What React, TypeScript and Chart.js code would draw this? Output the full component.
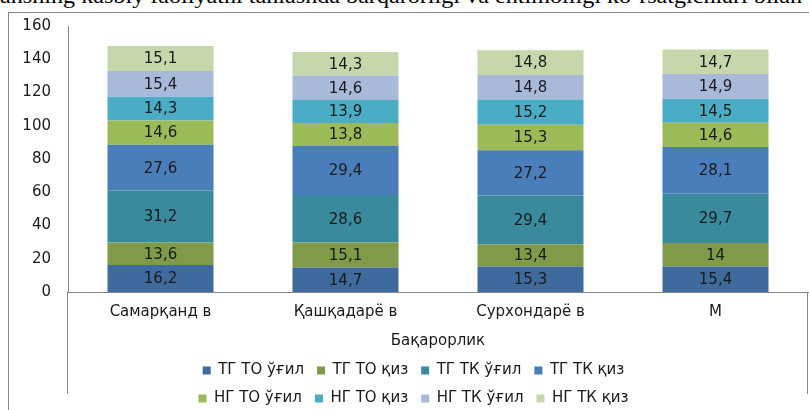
import React, { useEffect, useRef } from 'react';
import { Chart, registerables } from 'chart.js';

Chart.register(...registerables);

// ---- data ----
const categories = ['Самарқанд в', 'Қашқадарё в', 'Сурхондарё в', 'М'];
const axisTitle = 'Бақарорлик';
const headerText = 'ansning kasbiy faoliyatni tanlashda barqarorligi va ehtimolligi ko‘rsatgichlari bilan';

const seriesNames = [
  'ТГ ТО ўғил', 'ТГ ТО қиз', 'ТГ ТК ўғил', 'ТГ ТК қиз',
  'НГ ТО ўғил', 'НГ ТО қиз', 'НГ ТК ўғил', 'НГ ТК қиз',
];
const tgToOgil = [16.2, 14.7, 15.3, 15.4];
const tgToQiz = [13.6, 15.1, 13.4, 14];
const tgTkOgil = [31.2, 28.6, 29.4, 29.7];
const tgTkQiz = [27.6, 29.4, 27.2, 28.1];
const ngToOgil = [14.6, 13.8, 15.3, 14.6];
const ngToQiz = [14.3, 13.9, 15.2, 14.5];
const ngTkOgil = [15.4, 14.6, 14.8, 14.9];
const ngTkQiz = [15.1, 14.3, 14.8, 14.7];
const seriesValues = [tgToOgil, tgToQiz, tgTkOgil, tgTkQiz, ngToOgil, ngToQiz, ngTkOgil, ngTkQiz];

const yMin = 0;
const yMax = 160;
const yStep = 20;

// ---- styles ----
const seriesColors = [
  '#3F6A9E', '#7F9A48', '#3A8A9E', '#4A7EBB',
  '#9BBB59', '#4BACC6', '#A9B9DA', '#C5D7AB',
];
const FONT = '"DejaVu Sans", "Noto Sans", sans-serif';
const TEXT = '#1a1a1a';
const AXIS = '#868686';

const segmentLabels = {
  id: 'segmentLabels',
  afterDatasetsDraw(chart: any) {
    const ctx = chart.ctx;
    ctx.save();
    ctx.font = `15px ${FONT}`;
    ctx.fillStyle = TEXT;
    ctx.textAlign = 'center';
    ctx.textBaseline = 'middle';
    chart.data.datasets.forEach((ds: any, i: number) => {
      const meta = chart.getDatasetMeta(i);
      meta.data.forEach((el: any, j: number) => {
        const v = ds.data[j];
        const { x, y, base } = el.getProps(['x', 'y', 'base'], true);
        ctx.fillText(String(v).replace('.', ','), x, (y + base) / 2 + 1);
      });
    });
    ctx.restore();
  },
};

const groupSeparators = {
  id: 'groupSeparators',
  afterDraw(chart: any) {
    const { ctx, chartArea } = chart;
    ctx.save();
    ctx.strokeStyle = AXIS;
    ctx.lineWidth = 1;
    ctx.beginPath();
    [chartArea.left, chartArea.right].forEach((x: number) => {
      const px = Math.round(x) - 0.5;
      ctx.moveTo(px, chartArea.bottom);
      ctx.lineTo(px, chartArea.bottom + 102);
    });
    ctx.stroke();
    ctx.restore();
  },
};

export default function App() {
  const canvasRef = useRef<HTMLCanvasElement | null>(null);

  useEffect(() => {
    if (!canvasRef.current) return;
    const font = { family: FONT, size: 15 };
    const chart = new Chart(canvasRef.current, {
      type: 'bar',
      data: {
        labels: categories,
        datasets: seriesNames.map((name, i) => ({
          label: name,
          data: seriesValues[i],
          backgroundColor: seriesColors[i],
          borderWidth: 0,
          barPercentage: 0.573,
          categoryPercentage: 1,
        })),
      },
      options: {
        responsive: false,
        animation: false,
        layout: { padding: { top: 23, left: 0, right: 1, bottom: 0 } },
        plugins: {
          tooltip: { enabled: false },
          legend: {
            position: 'bottom',
            labels: {
              boxWidth: 8,
              boxHeight: 8,
              padding: 13,
              font,
              color: TEXT,
            },
          },
        },
        scales: {
          x: {
            stacked: true,
            grid: { display: false, drawTicks: false },
            border: { display: true, color: AXIS },
            ticks: { font, color: TEXT, padding: 11 },
            title: {
              display: true,
              text: axisTitle,
              font,
              color: TEXT,
              padding: { top: 0, bottom: 0 },
            },
            afterFit: (s: any) => {
              s.height = 58;
            },
          },
          y: {
            stacked: true,
            min: yMin,
            max: yMax,
            ticks: { stepSize: yStep, font, color: TEXT, padding: 17 },
            grid: { display: false, drawTicks: false },
            border: { display: true, color: AXIS },
            afterFit: (s: any) => {
              s.width = 68;
            },
          },
        },
      } as any,
      plugins: [segmentLabels, groupSeparators],
    });

    // legend: 4 items per row, rows centred like the reference
    const lg: any = (chart as any).legend;
    if (lg) {
      const origUpdate = lg.update.bind(lg);
      lg.update = (w: number, h: number, m: any) => origUpdate(Math.min(w, 490), h, m);
      const origDraw = lg.draw.bind(lg);
      lg.draw = () => {
        const l = lg.left;
        const r = lg.right;
        const center = 413.5;
        const half = 258;
        lg.left = center - half;
        lg.right = center + half;
        origDraw();
        lg.left = l;
        lg.right = r;
      };
      chart.update();
    }

    return () => chart.destroy();
  }, []);

  return (
    <div
      style={{
        position: 'absolute',
        left: 0,
        top: 0,
        width: 809,
        height: 410,
        overflow: 'hidden',
        background: '#fff',
      }}
    >
      <div
        style={{
          position: 'absolute',
          left: 0,
          top: -16,
          whiteSpace: 'nowrap',
          fontFamily: '"Liberation Serif", serif',
          fontSize: 21,
          lineHeight: '24px',
          color: '#000',
          transform: 'scaleX(1.15)',
          transformOrigin: '0 0',
        }}
      >
        {headerText}
      </div>
      <div
        style={{
          position: 'absolute',
          left: 8,
          top: 12,
          width: 900,
          height: 500,
          border: `1px solid ${AXIS}`,
        }}
      />
      <canvas
        ref={canvasRef}
        width={809}
        height={416}
        style={{ position: 'absolute', left: 0, top: 0, width: 809, height: 416 }}
      />
    </div>
  );
}
